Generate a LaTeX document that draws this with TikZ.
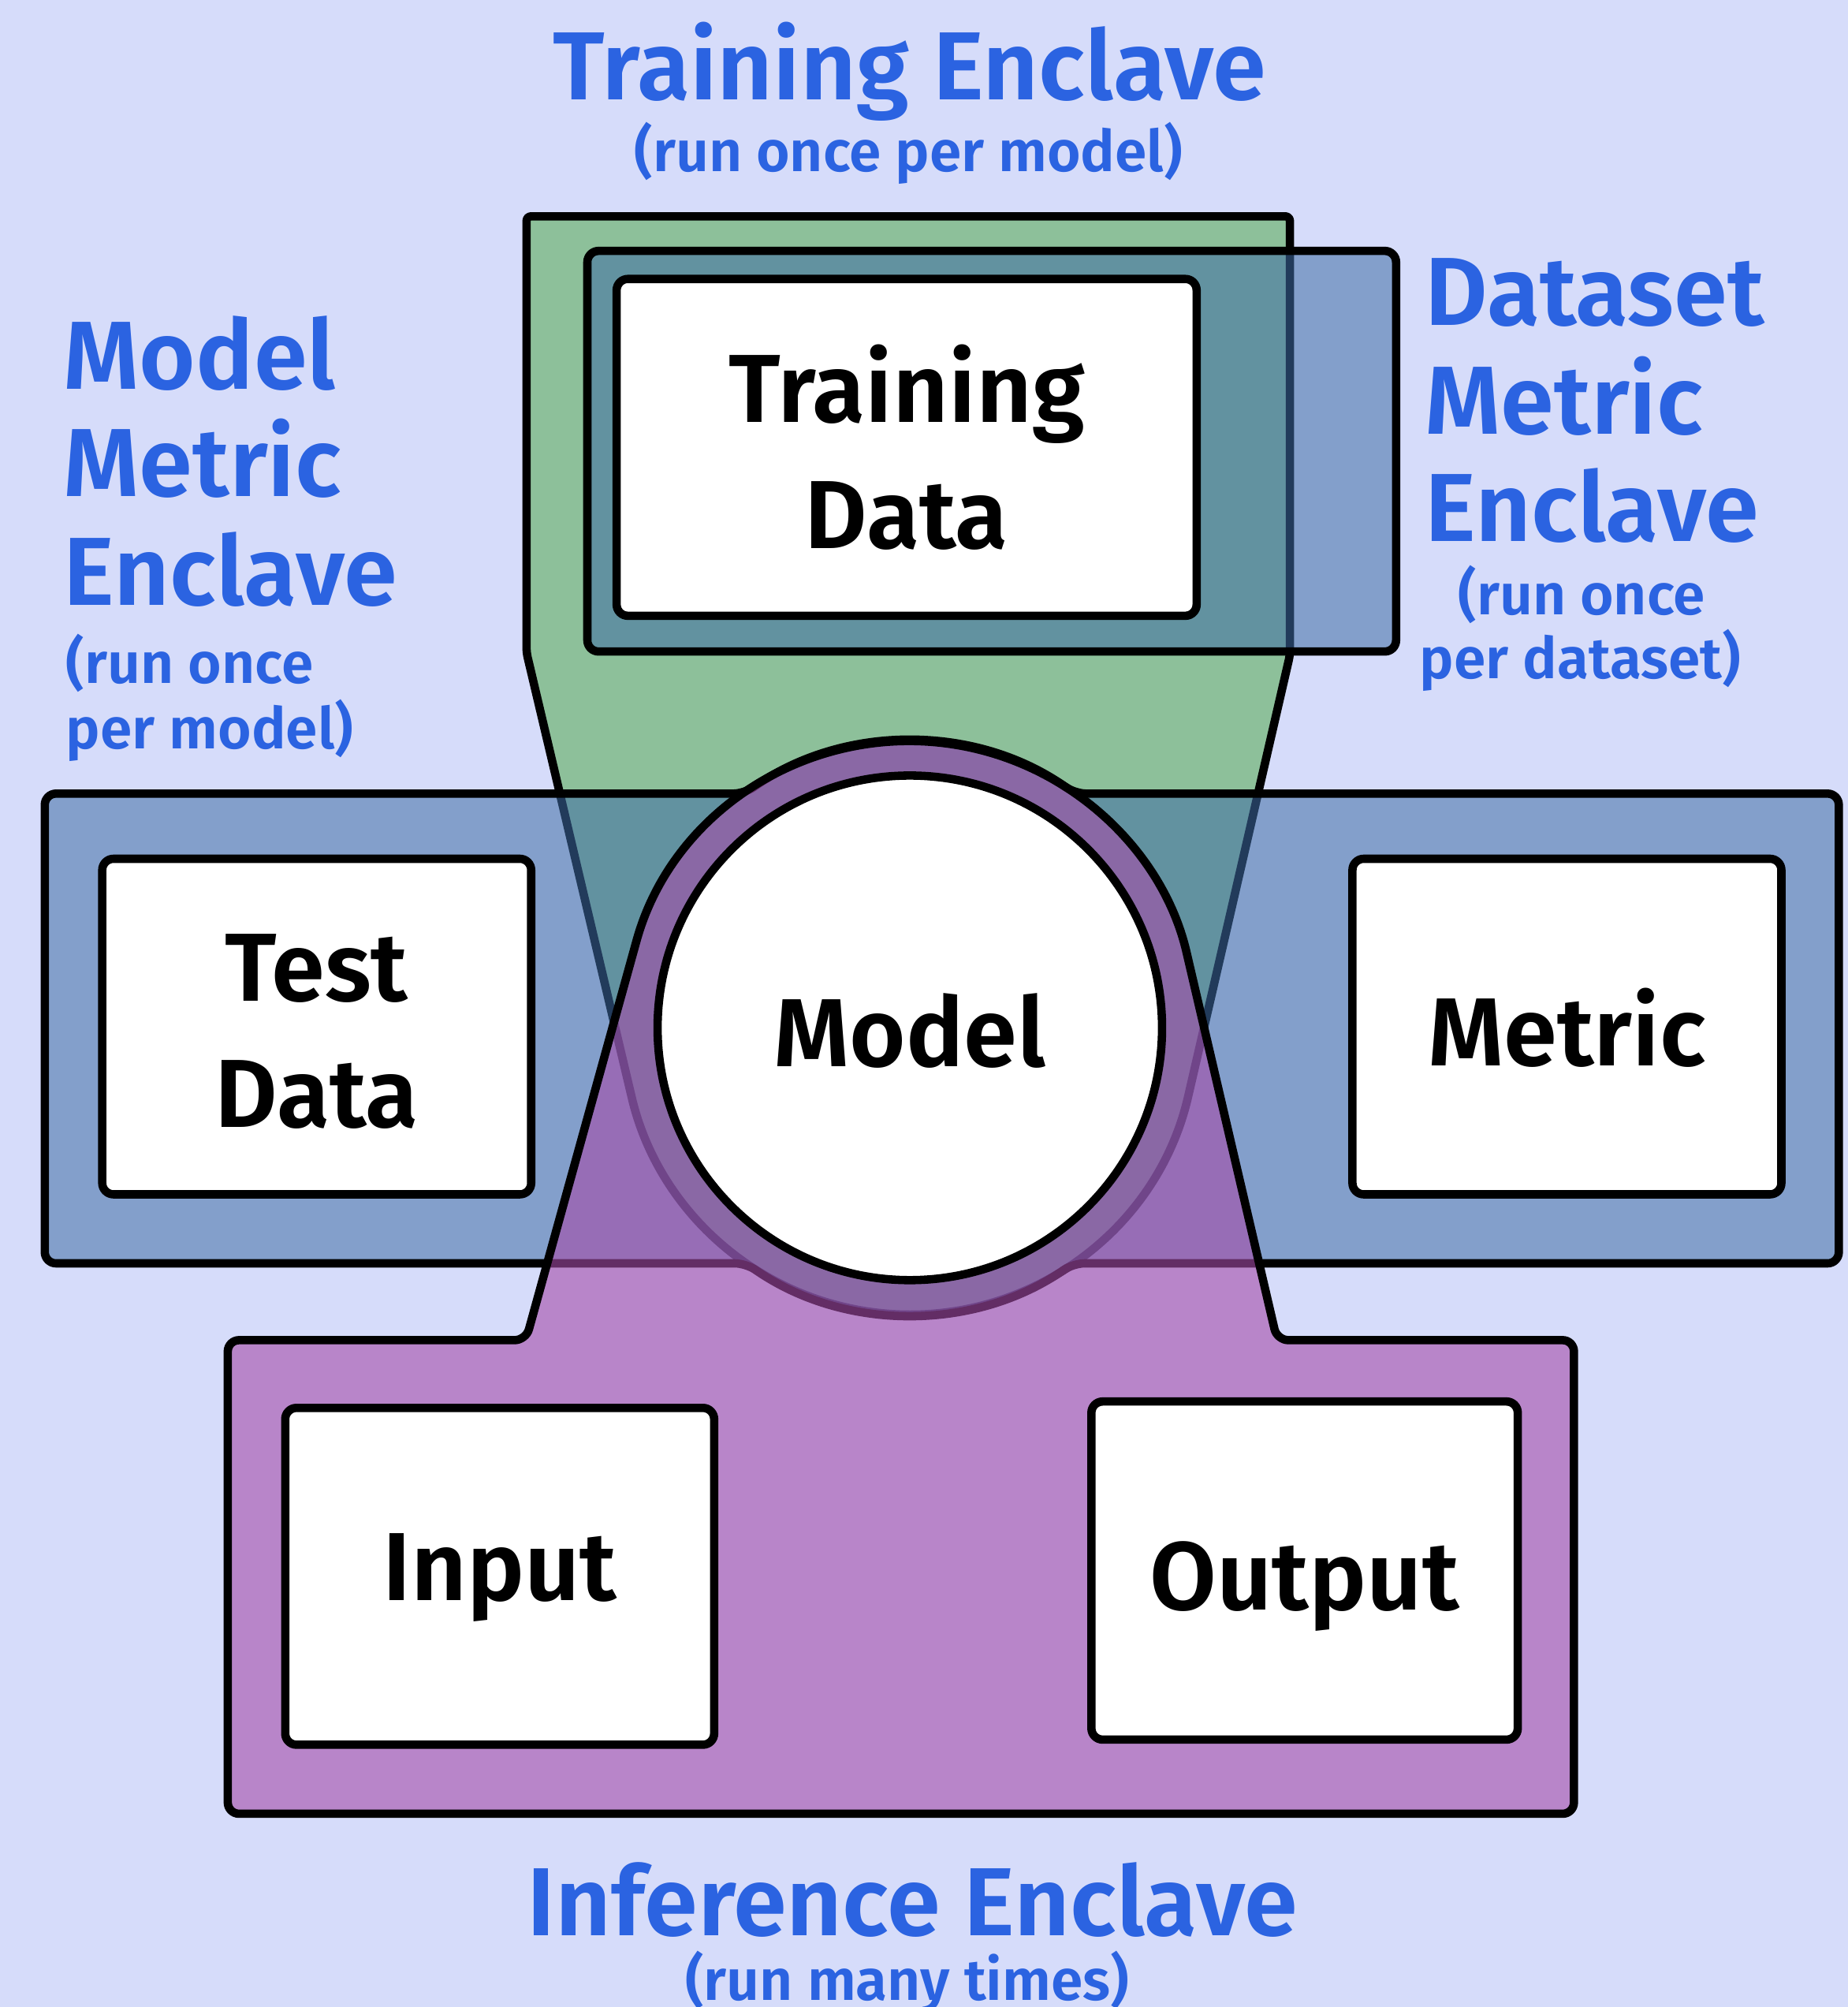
\documentclass[tikz,border=0pt]{standalone}
\usepackage{fontspec}
\setmainfont{Fira Sans}
\IfFontExistsTF{Fira Sans SemiBold}
  {\newfontfamily\wfont{Fira Sans SemiBold}}
  {\newfontfamily\wfont{Fira Sans}[FakeBold=1.2]}
\usetikzlibrary{calc}
\definecolor{bgc}{RGB}{214,220,250}
\definecolor{greenc}{RGB}{141,192,154}
\definecolor{bluec}{RGB}{63,109,166}
\definecolor{purplec}{RGB}{165,76,169}
\definecolor{titlec}{RGB}{43,99,225}
\newcommand\bigtxt{\fontsize{21.5}{27.9}\selectfont\wfont}
\newcommand\subtxt{\fontsize{12.8}{14}\selectfont\wfont}
\tikzset{
  outl/.style={draw=black, line width=1.85pt},
  wbox/.style={outl, fill=white, rounded corners=2.5pt, inner sep=0pt, font=\bigtxt, align=center},
  ttl/.style={text=titlec, font=\bigtxt, inner sep=0pt},
  subt/.style={text=titlec, font=\subtxt, inner sep=0pt},
}
\begin{document}
\begin{tikzpicture}[x=0.01cm, y=-0.01cm, line join=round]
\fill[bgc] (0,0) rectangle (1444,1568);
\useasboundingbox (0,0) rectangle (1444,1568);
\coordinate (C) at (711,803);

% Training enclave (green)
\filldraw[fill=greenc, outl, rounded corners=1pt]
  (411.5,169) -- (1008,169) -- (1008,512) -- ($(C)+(13:224)$)
  arc[start angle=13, end angle=166.7, radius=224] -- (411.5,510) -- cycle;

% Model metric enclave (blue band + disk)
\filldraw[fill=bluec, fill opacity=.55, outl, rounded corners=2.5pt]
  (35,620) -- (581.8,620) arc[start angle=234.8, end angle=305.2, radius=224]
  -- (1437,620) -- (1437,987) -- (838.7,987)
  arc[start angle=55.2, end angle=124.8, radius=224] -- (35,987) -- cycle;

% Dataset metric enclave
\filldraw[fill=bluec, fill opacity=.55, outl, rounded corners=2.5pt]
  (459,196) rectangle (1091,509);

% Inference enclave (purple)
\filldraw[fill=purplec, fill opacity=.6, outl, rounded corners=2.5pt]
  (178,1047) -- (411,1047) -- ($(C)+(195.5:224)$)
  arc[start angle=195.5, end angle=346.9, radius=224]
  -- (998,1047) -- (1230,1047) -- (1230,1417) -- (178,1417) -- cycle;

% White boxes
\node[wbox, minimum width=4.53cm, minimum height=2.63cm] (train) at (708.5,349.5) {Training\\Data};
\node[wbox, minimum width=3.35cm, minimum height=2.62cm] (test) at (247.5,802) {\rule{0pt}{17.1pt}Test\\Data};
\node[wbox, minimum width=3.35cm, minimum height=2.62cm, text height=17.4pt, text depth=0pt] (metric) at (1224.5,802) {Metric};
\node[wbox, minimum width=3.35cm, minimum height=2.63cm, text height=10.8pt, text depth=0pt] (input) at (390.5,1231.5) {Input};
\node[wbox, minimum width=3.33cm, minimum height=2.64cm, text height=17.4pt, text depth=0pt] (output) at (1019.5,1227) {Output};
\node[outl, fill=white, circle, minimum size=3.94cm, inner sep=0pt, font=\bigtxt, text height=17.1pt, text depth=0pt] (model) at (C) {Model};

% Titles
\node[ttl, anchor=base] (tetitle) at (711,78) {Training Enclave};
\node[subt, anchor=base] (tesub) at (710,134) {(run once per model)};

\node[ttl, anchor=base west] (mm1) at (49,304) {Model};
\node[ttl, anchor=base west] (mm2) at (49,388) {Metric};
\node[ttl, anchor=base west] (mm3) at (49,473) {Enclave};
\node[subt, anchor=base west] (mm4) at (51,534) {(run once};
\node[subt, anchor=base west] (mm5) at (51,585) {per model)};

\node[ttl, anchor=base west] (dm1) at (1113,254) {Dataset};
\node[ttl, anchor=base west] (dm2) at (1113,339) {Metric};
\node[ttl, anchor=base west] (dm3) at (1113,423) {Enclave};
\node[subt, anchor=base] (dm4) at (1236,480) {(run once};
\node[subt, anchor=base] (dm5) at (1235,530) {per dataset)};

\node[ttl, anchor=base] (ietitle) at (713,1512) {Inference Enclave};
\node[subt, anchor=base] (iesub) at (709,1563) {(run many times)};
\end{tikzpicture}
\end{document}
